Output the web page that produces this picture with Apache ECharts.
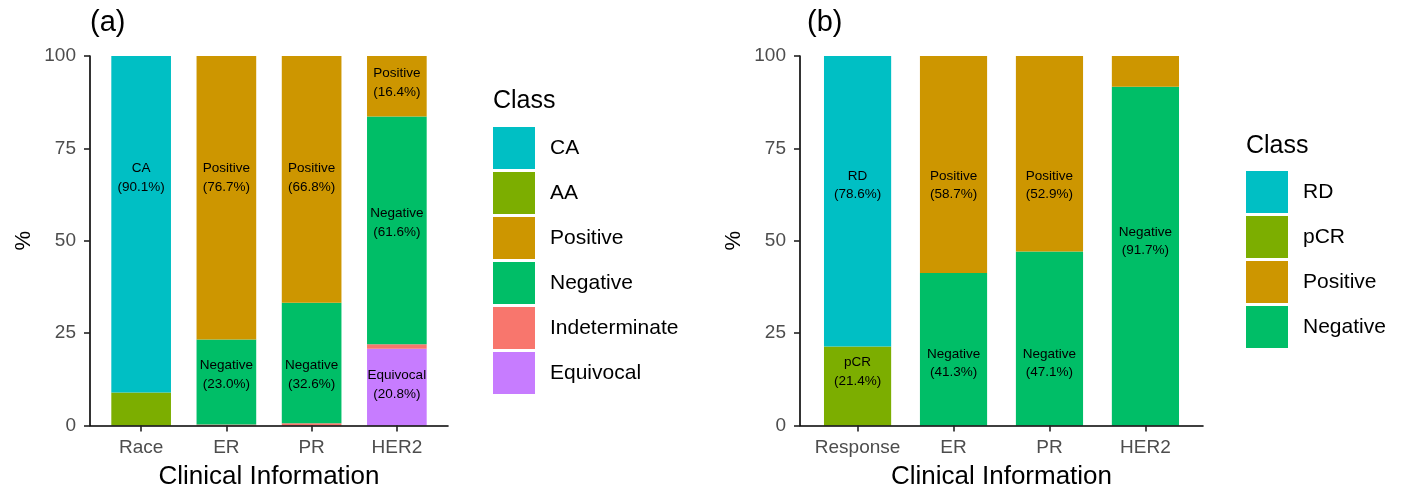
<!DOCTYPE html>
<html><head><meta charset="utf-8">
<script src="https://cdn.jsdelivr.net/npm/echarts@6/dist/echarts.min.js"></script>
<style>html,body{margin:0;padding:0;background:#fff}#c{width:1403px;height:489px}</style>
</head><body><div id="c"></div>
<script>
// ---------- data ----------
const catsA = ['Race', 'ER', 'PR', 'HER2'];
const catsB = ['Response', 'ER', 'PR', 'HER2'];
const catPos = [1, 2, 3, 4];
const yTicks = [0, 25, 50, 75, 100];

// panel (a): segment sizes in %, listed bottom-to-top of each stack
const aEquivocal     = [0,    0,    0,    20.8];
const aIndeterminate = [0,    0.3,  0.6,  1.2];
const aNegative      = [0,    23.0, 32.6, 61.6];
const aPositive      = [0,    76.7, 66.8, 16.4];
const aAA            = [8.9,  0,    0,    0];
const aCA            = [91.1, 0,    0,    0];

// panel (a) printed labels: class, category, percentage, height (%) where printed
const aLabelCls = ['CA',   'Positive', 'Negative', 'Positive', 'Negative', 'Positive', 'Negative', 'Equivocal'];
const aLabelCat = ['Race', 'ER',       'ER',       'PR',       'PR',       'HER2',     'HER2',     'HER2'];
const aLabelPct = [90.1,   76.7,       23.0,       66.8,       32.6,       16.4,       61.6,       20.8];
const aLabelY   = [67.0,   67.0,       13.7,       67.0,       13.7,       92.8,       54.9,       11.0];

// panel (b)
const bNegative = [0,    41.3, 47.1, 91.7];
const bPositive = [0,    58.7, 52.9, 8.3];
const bpCR      = [21.4, 0,    0,    0];
const bRD       = [78.6, 0,    0,    0];

const bLabelCls = ['RD',       'pCR',      'Positive', 'Negative', 'Positive', 'Negative', 'Negative'];
const bLabelCat = ['Response', 'Response', 'ER',       'ER',       'PR',       'PR',       'HER2'];
const bLabelPct = [78.6,       21.4,       58.7,       41.3,       52.9,       47.1,       91.7];
const bLabelY   = [65.0,       14.5,       65.0,       16.8,       65.0,       16.8,       49.9];

const legendA = ['CA', 'AA', 'Positive', 'Negative', 'Indeterminate', 'Equivocal'];
const legendB = ['RD', 'pCR', 'Positive', 'Negative'];

const colors = {
  CA: '#00BFC4', RD: '#00BFC4', AA: '#7CAE00', pCR: '#7CAE00',
  Positive: '#CD9600', Negative: '#00BE67', Indeterminate: '#F8766D', Equivocal: '#C77CFF'
};

// ---------- build ----------
const FONT = 'Liberation Sans, Arial, sans-serif';

function mkSeries(name, vals, idx, stack) {
  return {
    name: name, type: 'bar', stack: stack,
    xAxisIndex: idx, yAxisIndex: idx,
    barWidth: '70%',
    itemStyle: { color: colors[name] },
    data: vals
  };
}

function mkLabels(idx, cls, cat, pct, y) {
  return {
    type: 'scatter', xAxisIndex: idx, yAxisIndex: idx, z: 10,
    symbolSize: 1, itemStyle: { color: 'rgba(0,0,0,0)', opacity: 1 },
    silent: true,
    data: cat.map((c, i) => [c, y[i]]),
    label: {
      show: true, position: 'inside', color: '#000', opacity: 1, fontSize: 13.5,
      fontFamily: FONT, lineHeight: 18.5,
      formatter: p => cls[p.dataIndex] + '\n(' + pct[p.dataIndex].toFixed(1) + '%)'
    }
  };
}

const hidden = { axisLine: { show: false }, axisTick: { show: false }, axisLabel: { show: false }, splitLine: { show: false } };

function barX(gi, cats) { return Object.assign({ gridIndex: gi, type: 'category', data: cats }, hidden); }
function barY(gi) { return Object.assign({ gridIndex: gi, type: 'value', min: 0, max: 100 }, hidden); }

function showX(gi, cats) {
  return {
    gridIndex: gi, type: 'value', min: 0.4, max: 4.6, z: 5,
    name: 'Clinical Information', nameLocation: 'middle', nameGap: 38,
    nameTextStyle: { fontSize: 26, color: '#000', fontFamily: FONT },
    axisLine: { show: true, lineStyle: { color: '#000', width: 1.6 } },
    axisTick: { show: true, customValues: catPos, length: 6, lineStyle: { color: '#222', width: 1.6 } },
    axisLabel: { customValues: catPos, formatter: v => cats[Math.round(v) - 1], fontSize: 19, color: '#4D4D4D', margin: 13, fontFamily: FONT },
    splitLine: { show: false }
  };
}
function showY(gi) {
  return {
    gridIndex: gi, type: 'value', min: 0, max: 100, interval: 25, z: 5,
    name: '%', nameLocation: 'middle', nameGap: 55, nameRotate: 90,
    nameTextStyle: { fontSize: 22, color: '#000', fontFamily: FONT },
    axisLine: { show: true, lineStyle: { color: '#000', width: 1.6 } },
    axisTick: { show: true, length: 6, lineStyle: { color: '#222', width: 1.6 } },
    axisLabel: { fontSize: 19, color: '#4D4D4D', margin: 14, fontFamily: FONT, customValues: yTicks },
    splitLine: { show: false }
  };
}

const series = [
  mkSeries('Equivocal', aEquivocal, 0, 'a'),
  mkSeries('Indeterminate', aIndeterminate, 0, 'a'),
  mkSeries('Negative', aNegative, 0, 'a'),
  mkSeries('Positive', aPositive, 0, 'a'),
  mkSeries('AA', aAA, 0, 'a'),
  mkSeries('CA', aCA, 0, 'a'),
  mkLabels(0, aLabelCls, aLabelCat, aLabelPct, aLabelY),
  mkSeries('Negative', bNegative, 2, 'b'),
  mkSeries('Positive', bPositive, 2, 'b'),
  mkSeries('pCR', bpCR, 2, 'b'),
  mkSeries('RD', bRD, 2, 'b'),
  mkLabels(2, bLabelCls, bLabelCat, bLabelPct, bLabelY)
];

function legend(left, top, names) {
  return {
    orient: 'vertical', left: left, top: top, data: names, padding: 0,
    itemWidth: 42, itemHeight: 42, itemGap: 3, icon: 'rect',
    selectedMode: false,
    textStyle: { fontSize: 21, color: '#000', fontFamily: FONT, padding: [0, 0, 0, 10] }
  };
}

const T = (text, left, top, size) => ({ text, left, top, padding: 0,
  textStyle: { fontSize: size, fontWeight: 'normal', color: '#000', fontFamily: FONT } });

const aL = 90, aR = 448, bL = 800, bR = 1203;
const aS = (aR - aL) / 4.2, bS = (bR - bL) / 4.2;
const TOP = 56, BOTTOM = 489 - 425.5;
const G = (l, r) => ({ left: l, right: 1403 - r, top: TOP, bottom: BOTTOM, outerBoundsMode: 'none', containLabel: false });

const option = {
  animation: false,
  backgroundColor: '#fff',
  title: [
    T('(a)', 90, 8, 29),
    T('(b)', 807, 8, 29),
    T('Class', 493, 89, 25),
    T('Class', 1246, 134, 25)
  ],
  legend: [legend(493, 127, legendA), legend(1246, 171, legendB)],
  grid: [
    G(aL + 0.1 * aS, aR - 0.1 * aS),
    G(aL, aR),
    G(bL + 0.1 * bS, bR - 0.1 * bS),
    G(bL, bR)
  ],
  xAxis: [barX(0, catsA), showX(1, catsA), barX(2, catsB), showX(3, catsB)],
  yAxis: [barY(0), showY(1), barY(2), showY(3)],
  series: series
};

const chart = echarts.init(document.getElementById('c'), null, { renderer: 'canvas' });
chart.setOption(option);
</script></body></html>
